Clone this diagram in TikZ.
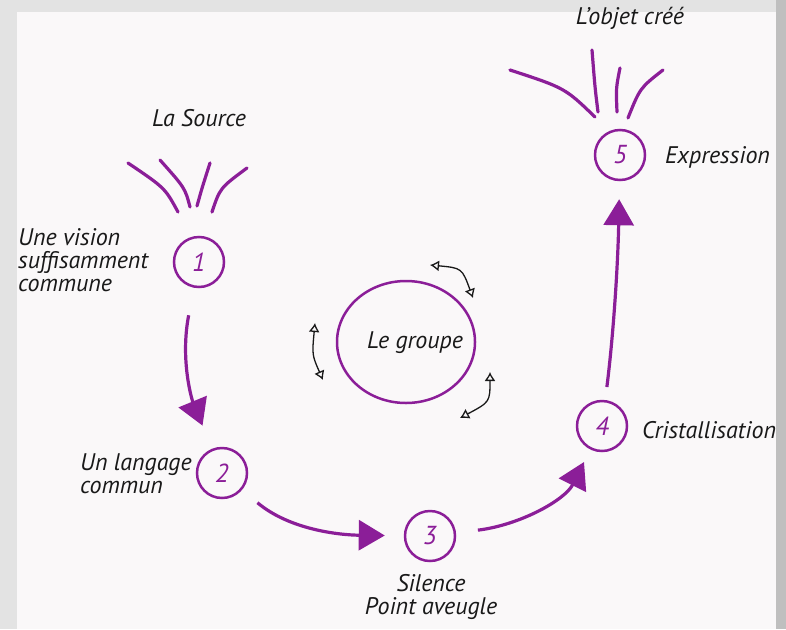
\documentclass[tikz,border=0pt]{standalone}
\usepackage{fontspec}
\setmainfont{PT Sans}
\usetikzlibrary{arrows.meta,positioning,shapes.geometric}
\definecolor{mauve}{RGB}{139,30,152}
\definecolor{fond}{RGB}{250,248,249}
\definecolor{encre}{RGB}{25,25,25}
\tikzset{
  etape/.style={circle, draw=mauve, line width=2.5pt, minimum size=50pt, inner sep=0pt,
    text=mauve, font=\itshape\fontsize{26}{26}\selectfont},
  legende/.style={inner sep=0pt, text=encre, align=left, font=\itshape\fontsize{24}{23}\selectfont},
  fleche/.style={draw=mauve, line width=3.2pt, -{Triangle[length=26pt,width=30pt]}},
  rayon/.style={draw=mauve, line width=3.2pt, line cap=round},
  echange/.style={draw=encre, line width=1.3pt, {Latex[open,length=9pt,width=11pt]}-{Latex[open,length=9pt,width=11pt]}}
}

\begin{document}
\begin{tikzpicture}[x=1pt,y=-1pt]
  \useasboundingbox (0,0) rectangle (786,629);
  % cadre
  \fill[gray!22] (0,0) rectangle (786,629);
  \fill[gray!50] (776,0) rectangle (786,629);
  \fill[fond] (17,12) rectangle (776,629);

  % les etapes
  \node[etape] (e1) at (199,262) {1};
  \node[etape] (e2) at (222,473) {2};
  \node[etape] (e3) at (430,536) {3};
  \node[etape] (e4) at (602,426) {4};
  \node[etape] (e5) at (620,155) {5};
  \node[ellipse, draw=mauve, line width=2.5pt, minimum width=138pt, minimum height=122pt, inner sep=0pt] (groupe) at (406,342) {};
  \node[legende, font=\itshape\fontsize{24}{24}\selectfont] (nom) at (415,343) {Le groupe};

  % legendes
  \node[legende] (source) at (199,118) {La Source};
  \node[legende, anchor=west] (vision) at (18,260) {Une vision\\suffisamment\\commune};
  \node[legende, anchor=west] (langage) at (80,474) {Un langage\\commun};
  \node[legende, align=center] (silence) at (431,597) {Silence\\Point aveugle};
  \node[legende, anchor=west] (cristal) at (642,430) {Cristallisation};
  \node[legende, anchor=west] (expr) at (665,157) {Expression};
  \node[legende] (objet) at (630,18) {L’objet créé};

  % fleches du cycle
  \draw[fleche, shorten <=28pt, shorten >=25pt] (e1) .. controls (180,360) and (192,400) .. (e2);
  \draw[fleche, shorten <=20pt, shorten >=19pt] (e2) .. controls (290,530) and (340,535) .. (e3);
  \draw[fleche, shorten <=22pt, shorten >=14pt] (e3) .. controls (520,525) and (565,500) .. (e4);
  \draw[fleche, shorten <=13pt, shorten >=18pt] (e4) .. controls (614,330) and (618,260) .. (e5);

  % rayons
  \foreach \a/\s/\b/\c/\t in {128/163/165/178/212, 160/160/185/190/207, 210/163/202/197/206, 247/168/220/212/212}
    \draw[rayon] (\a,\s) .. controls (\b,188) .. (\c,\t);
  \foreach \a/\s/\b/\c/\t in {510/70/565/595/117, 592/50/595/598/112, 620/68/616/617/112, 663/70/640/628/118}
    \draw[rayon] (\a,\s) .. controls (\b,88) .. (\c,\t);

  % echanges autour du groupe
  \draw[echange] (430,265) .. controls (462,268) .. (473,298);
  \draw[echange] (315,323) .. controls (312,355) .. (323,380);
  \draw[echange] (490,372) .. controls (490,402) .. (460,418);
\end{tikzpicture}
\end{document}
